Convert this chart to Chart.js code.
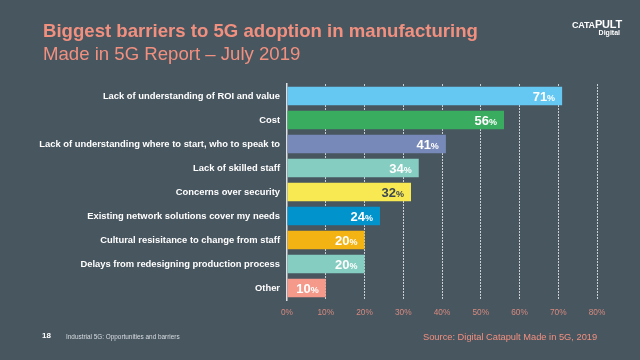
<!DOCTYPE html>
<html>
<head>
<meta charset="utf-8">
<script src="https://cdn.jsdelivr.net/npm/chart.js@4/dist/chart.umd.min.js"></script>
<style>
  html, body { margin: 0; padding: 0; background: #485660; }
  #wrap { position: relative; width: 640px; height: 360px; overflow: hidden; background: #485660; font-family: "Liberation Sans", Arial, sans-serif; }
  canvas { position: absolute; left: 0; top: 0; }
  .t { position: absolute; white-space: nowrap; }
  #title { left: 43px; top: 20px; font-size: 18.6px; font-weight: bold; color: #f2907f; line-height: 22px; }
  #sub { left: 43px; top: 43px; font-size: 18.6px; color: #f2907f; line-height: 22px; }
  #logo1 { right: 18px; top: 18px; font-size: 11px; font-weight: bold; color: #ffffff; line-height: 12px; letter-spacing: -0.2px; }
  #logo2 { right: 20px; top: 29px; font-size: 7px; font-weight: bold; color: #ffffff; line-height: 8px; }
  #pg { left: 42px; top: 331px; font-size: 8px; font-weight: bold; color: #ffffff; line-height: 10px; }
  #foot { left: 66px; top: 332px; font-size: 6.4px; color: #d8dde0; line-height: 9px; }
  #src { left: 423px; top: 331px; font-size: 9.3px; color: #f2907f; line-height: 12px; }
</style>
</head>
<body>
<div id="wrap">
  <canvas id="c" width="640" height="360"></canvas>
  <div class="t" id="title">Biggest barriers to 5G adoption in manufacturing</div>
  <div class="t" id="sub">Made in 5G Report – July 2019</div>
  <div class="t" id="logo1"><span style="font-size:9px">CATA</span>PULT</div>
  <div class="t" id="logo2">Digital</div>
  <div class="t" id="pg">18</div>
  <div class="t" id="foot">Industrial 5G: Opportunities and barriers</div>
  <div class="t" id="src">Source: Digital Catapult Made in 5G, 2019</div>
</div>
<script>
const categories = [
  "Lack of understanding of ROI and value",
  "Cost",
  "Lack of understanding where to start, who to speak to",
  "Lack of skilled staff",
  "Concerns over security",
  "Existing network solutions cover my needs",
  "Cultural resisitance to change from staff",
  "Delays from redesigning production process",
  "Other"
];
const values = [71, 56, 41, 34, 32, 24, 20, 20, 10];
const barColors = ["#64c8f2", "#39ac5f", "#7789b9", "#84cdc0", "#f8e852", "#0093cc", "#f3b313", "#84cdc0", "#f59a8b"];
const labelColors = ["#ffffff", "#ffffff", "#ffffff", "#ffffff", "#3b4752", "#ffffff", "#ffffff", "#ffffff", "#ffffff"];
const xTicks = [0, 10, 20, 30, 40, 50, 60, 70, 80];

const valueLabels = {
  id: 'valueLabels',
  afterDatasetsDraw(chart) {
    const ctx = chart.ctx;
    const meta = chart.getDatasetMeta(0);
    ctx.save();
    ctx.textBaseline = 'alphabetic';
    meta.data.forEach((bar, i) => {
      const num = String(values[i]);
      const big = 'bold 13px "Liberation Sans", Arial, sans-serif';
      const small = 'bold 9px "Liberation Sans", Arial, sans-serif';
      ctx.font = small;
      const wp = ctx.measureText('%').width;
      ctx.font = big;
      const wn = ctx.measureText(num).width;
      const right = bar.x - 7;
      const base = bar.y + 5;
      ctx.fillStyle = labelColors[i];
      ctx.textAlign = 'left';
      ctx.font = big;
      ctx.fillText(num, right - wp - wn, base);
      ctx.font = small;
      ctx.fillText('%', right - wp, base);
    });
    ctx.restore();
  }
};

new Chart(document.getElementById('c'), {
  type: 'bar',
  data: {
    labels: categories,
    datasets: [{
      data: values,
      backgroundColor: barColors,
      borderWidth: 0,
      categoryPercentage: 1,
      barPercentage: 0.77
    }]
  },
  options: {
    indexAxis: 'y',
    responsive: false,
    animation: false,
    devicePixelRatio: 1,
    layout: { padding: { top: 84, bottom: 40, right: 43, left: 0 } },
    plugins: { legend: { display: false }, tooltip: { enabled: false }, title: { display: false } },
    scales: {
      x: {
        min: 0, max: 80,
        afterBuildTicks(scale) { scale.ticks = xTicks.map(v => ({ value: v })); },
        afterFit(scale) { scale.height = 20; },
        grid: {
          color: (c) => c.tick && c.tick.value === 0 ? 'rgba(0,0,0,0)' : 'rgba(225,228,230,0.85)',
          drawTicks: false, lineWidth: 1
        },
        border: { display: false, dash: [2, 1] },
        ticks: {
          color: '#d88a7e',
          font: { family: '"Liberation Sans", Arial, sans-serif', size: 8.3 },
          padding: 8,
          callback: (v) => v + '%'
        }
      },
      y: {
        afterFit(scale) { scale.width = 287; },
        grid: { display: false, drawTicks: false },
        border: { display: true, color: '#dfe2e4', width: 1.5 },
        ticks: {
          color: '#ffffff',
          font: { family: '"Liberation Sans", Arial, sans-serif', size: 9.4, weight: 'bold' },
          padding: 7,
          autoSkip: false
        }
      }
    }
  },
  plugins: [valueLabels]
});
</script>
</body>
</html>
